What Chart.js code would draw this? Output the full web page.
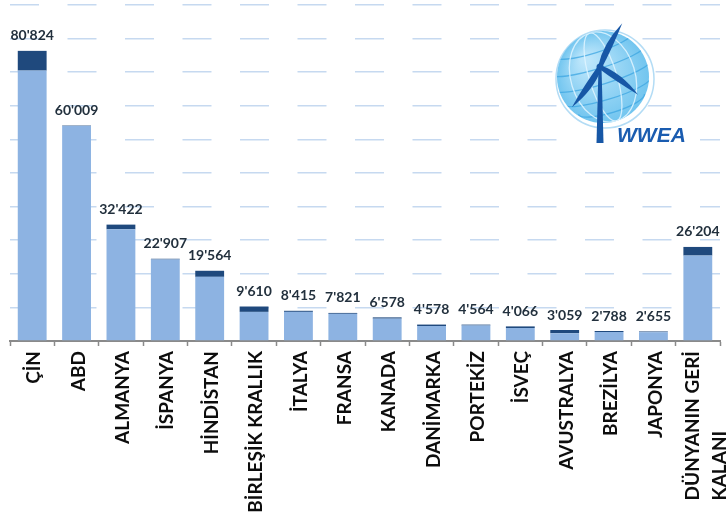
<!DOCTYPE html>
<html>
<head>
<meta charset="utf-8">
<script src="https://cdn.jsdelivr.net/npm/chart.js@4.4.1/dist/chart.umd.min.js"></script>
<style>
  html, body { margin: 0; padding: 0; background: #ffffff; }
  #wrap { width: 726px; height: 523px; }
</style>
</head>
<body>
<div id="wrap"><canvas id="chart" width="726" height="523"></canvas></div>
<script>
// Installed wind capacity (MW) per country, mid-year total and the part added in the half year
const countries = ['ÇİN', 'ABD', 'ALMANYA', 'İSPANYA', 'HİNDİSTAN', 'BİRLEŞİK KRALLIK', 'İTALYA',
  'FRANSA', 'KANADA', 'DANİMARKA', 'PORTEKİZ', 'İSVEÇ', 'AVUSTRALYA', 'BREZİLYA', 'JAPONYA',
  ['DÜNYANIN GERİ', 'KALANI']];
const totalMW = [80824, 60009, 32422, 22907, 19564, 9610, 8415, 7821, 6578, 4578, 4564, 4066, 3059, 2788, 2655, 26204];
const addedMW = [5500, 150, 1300, 200, 1700, 1500, 300, 250, 350, 400, 250, 450, 900, 280, 200, 2400];
const previousMW = totalMW.map((t, i) => t - addedMW[i]);

const LIGHT = '#8db3e2';
const DARK = '#1f497d';

function fmt(n) {
  return String(n).replace(/\B(?=(\d{3})+(?!\d))/g, "'");
}

// Totals written above each stacked bar
const valueLabels = {
  id: 'valueLabels',
  afterDatasetsDraw(chart) {
    const { ctx, scales: { x, y } } = chart;
    ctx.save();
    ctx.font = 'bold 14px Lato';
    ctx.fillStyle = '#22303d';
    ctx.textAlign = 'center';
    ctx.textBaseline = 'bottom';
    totalMW.forEach((v, i) => {
      ctx.fillText(fmt(v), x.getPixelForValue(i), y.getPixelForValue(v) - 8);
    });
    ctx.restore();
  }
};

// Vertical category names under the axis
const categoryNames = {
  id: 'categoryNames',
  afterDraw(chart) {
    const { ctx, scales: { x } } = chart;
    const top = chart.chartArea.bottom + 10;
    ctx.save();
    ctx.font = 'bold 19px Lato';
    ctx.fillStyle = '#0d0d0d';
    ctx.textBaseline = 'middle';
    countries.forEach((lbl, i) => {
      const cx = x.getPixelForValue(i);
      ctx.save();
      ctx.translate(cx, top);
      ctx.rotate(-Math.PI / 2);
      if (Array.isArray(lbl)) {
        const w = ctx.measureText(lbl[0]).width;
        ctx.textAlign = 'right';
        ctx.fillText(lbl[0], 0, -5);
        ctx.textAlign = 'left';
        ctx.fillText(lbl[1], -w, 22);
      } else {
        ctx.textAlign = 'right';
        ctx.fillText(lbl, 0, 2);
      }
      ctx.restore();
    });
    ctx.restore();
  }
};

// WWEA emblem: globe with a wind turbine
const emblem = {
  id: 'emblem',
  afterDraw(chart) {
    const ctx = chart.ctx;
    const cx = 603, cy = 77, r = 46;
    ctx.save();
    ctx.fillStyle = '#ffffff';
    ctx.beginPath(); ctx.arc(cx + 1, cy + 1, r + 6, 0, Math.PI * 2); ctx.fill();
    ctx.fillRect(565, 118, 135, 32);

    ctx.strokeStyle = '#b3dcf5';
    ctx.lineWidth = 1.5;
    ctx.beginPath(); ctx.arc(cx + 2, cy + 2, r + 3, 0, Math.PI * 2); ctx.stroke();

    const g = ctx.createRadialGradient(cx - 18, cy - 18, 4, cx, cy, r);
    g.addColorStop(0, '#bde6fb');
    g.addColorStop(1, '#72c5ef');
    ctx.fillStyle = g;
    ctx.beginPath(); ctx.arc(cx, cy, r, 0, Math.PI * 2); ctx.fill();

    ctx.save();
    ctx.beginPath(); ctx.arc(cx, cy, r, 0, Math.PI * 2); ctx.clip();
    ctx.translate(cx, cy);
    ctx.rotate(-0.3);
    ctx.lineWidth = 1.3;
    ctx.strokeStyle = 'rgba(60,165,226,0.75)';
    [-0.6, -0.25, 0.1, 0.45, 0.75].forEach(k => {
      ctx.beginPath();
      ctx.ellipse(0, k * r - 6, r * Math.sqrt(Math.max(0.05, 1 - k * k)) + 4, r * 0.18, 0, 0, Math.PI);
      ctx.stroke();
    });
    ctx.strokeStyle = 'rgba(225,245,255,0.85)';
    [0.3, 0.7].forEach(k => {
      ctx.beginPath();
      ctx.ellipse(0, 0, r * k, r, 0, 0, Math.PI * 2);
      ctx.stroke();
    });
    ctx.restore();

    // turbine
    const hx = 600, hy = 67;
    ctx.fillStyle = '#1757a6';
    ctx.beginPath();
    ctx.moveTo(hx - 1.5, hy); ctx.lineTo(hx + 1.5, hy);
    ctx.lineTo(hx + 3.5, 143); ctx.lineTo(hx - 3.5, 143);
    ctx.closePath(); ctx.fill();
    const blade = (deg, len) => {
      ctx.save();
      ctx.translate(hx, hy);
      ctx.rotate(deg * Math.PI / 180);
      ctx.beginPath();
      ctx.moveTo(0, -2);
      ctx.quadraticCurveTo(len * 0.45, -8, len, 0);
      ctx.quadraticCurveTo(len * 0.45, 2.5, 0, 2);
      ctx.closePath(); ctx.fill();
      ctx.restore();
    };
    blade(-63, 49);
    blade(36, 47);
    blade(125, 49);
    ctx.beginPath(); ctx.arc(hx, hy, 3.5, 0, Math.PI * 2); ctx.fill();

    ctx.font = 'italic bold 21px "Liberation Sans"';
    ctx.fillStyle = '#1a5cb0';
    ctx.textAlign = 'left';
    ctx.textBaseline = 'alphabetic';
    ctx.fillText('WWEA', 617, 142);
    ctx.restore();
  }
};

new Chart(document.getElementById('chart'), {
  type: 'bar',
  data: {
    labels: countries,
    datasets: [
      { data: previousMW, backgroundColor: LIGHT, stack: 'cap', barPercentage: 0.65, categoryPercentage: 1.0 },
      { data: addedMW, backgroundColor: DARK, stack: 'cap', barPercentage: 0.65, categoryPercentage: 1.0 }
    ]
  },
  options: {
    responsive: false,
    animation: false,
    layout: { padding: { left: 10, right: 6, top: 5, bottom: 177 } },
    plugins: { legend: { display: false }, tooltip: { enabled: false } },
    scales: {
      x: {
        stacked: true,
        ticks: { display: false },
        grid: { drawOnChartArea: false, drawTicks: true, tickLength: 5, tickColor: '#8a8a8a', tickWidth: 1.5 },
        border: { display: true, color: '#8a8a8a', width: 2 }
      },
      y: {
        stacked: true,
        min: 0,
        max: 93600,
        ticks: { display: false, stepSize: 9360 },
        grid: { drawTicks: false, color: '#c6d9f0', lineWidth: 1.5 },
        border: { display: false, dash: [29, 28.5], dashOffset: 0 }
      }
    }
  },
  plugins: [valueLabels, categoryNames, emblem]
});
</script>
</body>
</html>
